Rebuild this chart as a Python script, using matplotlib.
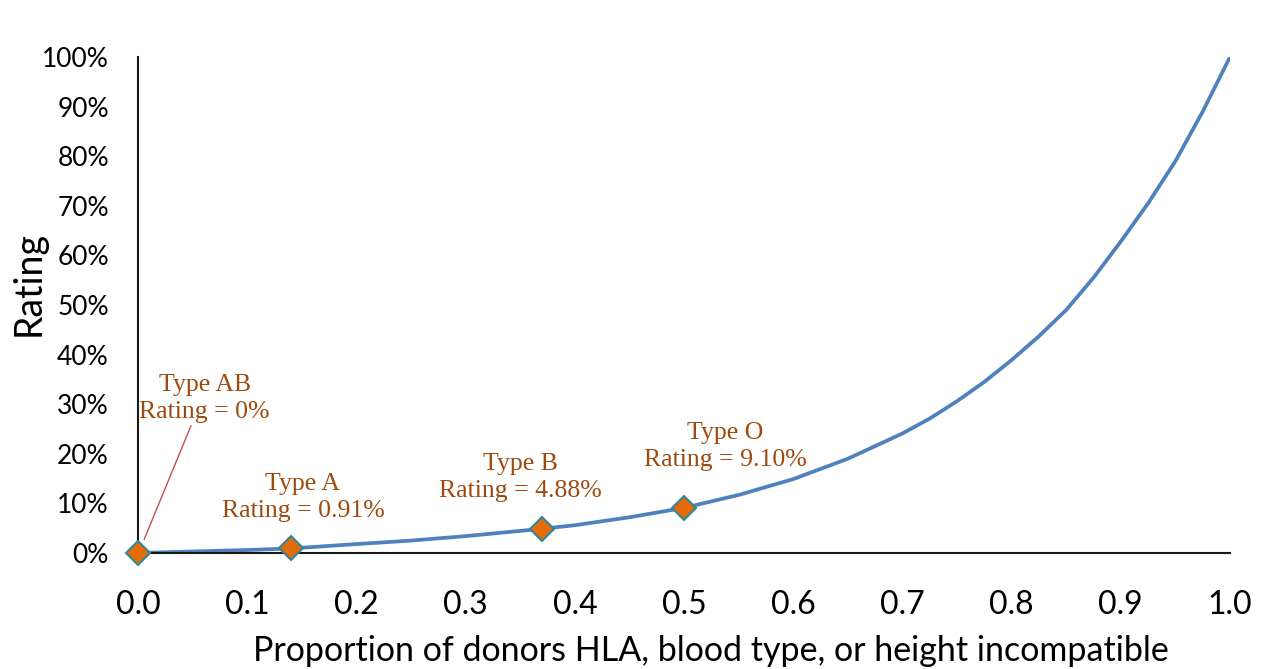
import matplotlib.pyplot as plt
from matplotlib.ticker import PercentFormatter

# curve
propVals   = [0.0, 0.05, 0.1, 0.14, 0.2, 0.25, 0.3, 0.37, 0.4, 0.45, 0.5, 0.55, 0.6,
              0.65, 0.7, 0.725, 0.75, 0.775, 0.8, 0.825, 0.85, 0.875, 0.9, 0.925,
              0.95, 0.975, 1.0]
ratingVals = [0.0, 0.003, 0.006, 0.0091, 0.018, 0.025, 0.034, 0.0488, 0.056, 0.072,
              0.091, 0.117, 0.149, 0.190, 0.241, 0.271, 0.306, 0.345, 0.389, 0.437,
              0.490, 0.555, 0.628, 0.705, 0.790, 0.890, 1.0]

# blood types
typeNames   = ["Type AB", "Type A", "Type B", "Type O"]
typeProp    = [0.0, 0.14, 0.37, 0.5]
typeRating  = [0.0, 0.0091, 0.0488, 0.091]
typeLabels  = ["0%", "0.91%", "4.88%", "9.10%"]

fig = plt.figure(figsize=(12.7, 6.69), dpi=100)
ax = fig.add_axes([0.1087, 0.1734, 0.8598, 0.7414])

ax.plot(propVals, ratingVals, color="#4F81BD", lw=2.7, zorder=2,
        solid_joinstyle="round", solid_capstyle="round")
ax.plot(typeProp, typeRating, ls="none", marker="D", ms=12,
        mfc="#E36C09", mec="#31859C", mew=1.5, zorder=3, clip_on=False)

txtPos = [(0.061, 0.312), (0.151, 0.111), (0.350, 0.153), (0.538, 0.214)]
for name, lab, (tx, ty) in zip(typeNames, typeLabels, txtPos):
    ax.text(tx, ty, name + "\nRating = " + lab, ha="center", va="center",
            multialignment="center", fontsize=18.5, color="#9C4A10",
            family="Liberation Serif", linespacing=1.3)

ax.annotate("", xy=(0.0046, 0.022), xytext=(0.0495, 0.262),
            arrowprops=dict(arrowstyle="-", color="#C0504D", lw=1))

ax.set_xlim(0, 1.0)
ax.set_ylim(0, 1.0)
ax.set_xticks([i / 10 for i in range(11)])
ax.set_xticklabels(["%.1f" % (i / 10) for i in range(11)])
ax.set_yticks([i / 10 for i in range(11)])
ax.yaxis.set_major_formatter(PercentFormatter(1.0, decimals=0))

for s in ["top", "right"]:
    ax.spines[s].set_visible(False)
ax.spines["left"].set_color("#1a1a1a")
ax.spines["bottom"].set_color("#1a1a1a")
ax.spines["left"].set_linewidth(1.5)
ax.spines["bottom"].set_linewidth(1.5)

ax.tick_params(axis="y", length=0, pad=21, labelsize=19)
ax.tick_params(axis="x", length=0, pad=27, labelsize=23)
for t in ax.get_xticklabels() + ax.get_yticklabels():
    t.set_family("Lato")

ax.set_xlabel("Proportion of donors HLA, blood type, or height incompatible",
              fontsize=24.5, family="Lato")
ax.xaxis.set_label_coords(0.525, -0.165)
ax.set_ylabel("Rating", fontsize=27, family="Lato")
ax.yaxis.set_label_coords(-0.0833, 0.544)

fig.savefig("out.png", dpi=100)
